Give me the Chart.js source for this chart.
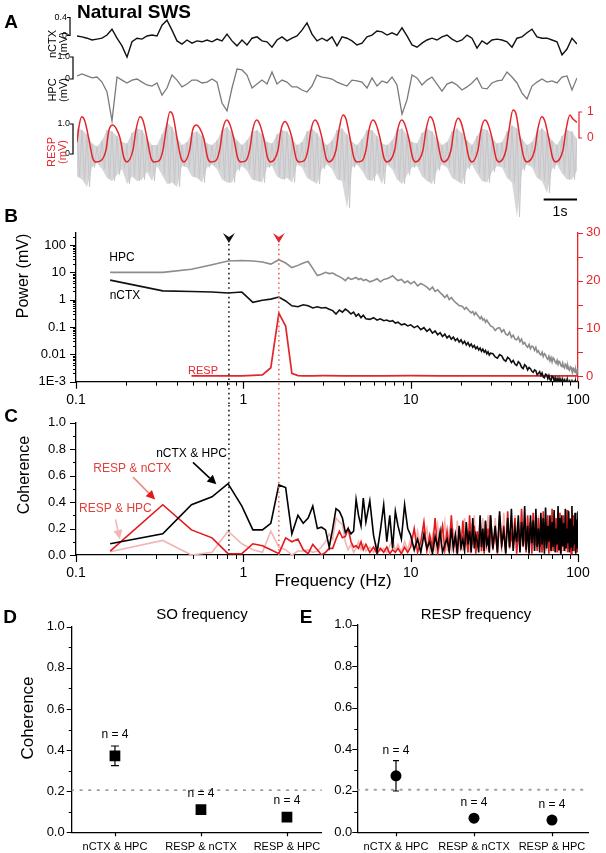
<!DOCTYPE html>
<html><head><meta charset="utf-8">
<script src="https://cdn.jsdelivr.net/npm/chart.js@4.4.0/dist/chart.umd.min.js"></script>
<style>
body{margin:0;width:606px;height:853px;position:relative;background:#fff;overflow:hidden;font-family:"Liberation Sans",Arial,sans-serif;}
canvas{position:absolute;}
.t{position:absolute;white-space:nowrap;line-height:1;transform:translate(-50%,-50%);}
.r{transform:translate(-50%,-50%) rotate(-90deg);text-align:center;}
.b{font-weight:bold;}
</style></head><body>
<script>
// ---------------- DATA ----------------
const DT = 0.15; // s per sample, panel A traces
const nctxTrace = [-0.01,-0.03,-0.06,-0.1,-0.08,-0.06,0.01,0.14,-0.06,-0.23,
-0.48,-0.14,-0.06,-0.08,-0.01,0.01,-0.01,0.23,0.34,0.12,
-0.12,-0.19,-0.1,-0.17,-0.12,-0.14,-0.1,-0.14,-0.08,-0.12,
0.03,-0.12,-0.23,-0.1,-0.21,-0.06,-0.03,-0.12,-0.14,-0.26,
-0.1,-0.03,-0.12,-0.06,-0.01,0.12,0.28,0.03,-0.12,-0.06,
-0.12,-0.03,-0.23,-0.03,-0.06,-0.12,-0.21,-0.17,-0.03,0.01,
0.1,0.08,0.01,0.06,0.01,0.17,-0.01,-0.21,-0.26,-0.17,
-0.1,-0.06,-0.1,-0.03,0.01,-0.08,-0.14,-0.1,0.01,-0.06,
-0.28,-0.12,-0.19,-0.1,-0.08,-0.1,-0.14,-0.26,-0.06,-0.03,
0.06,0.14,-0.03,-0.06,-0.06,-0.1,-0.14,-0.43,-0.3,-0.06,
-0.19];
const hpcTrace = [0.14,0.23,0.14,0.05,0.09,-0.14,-0.59,-1.9,0.09,-0.05,
-0.18,-0.05,0,-0.14,-0.27,-0.32,-0.18,-0.73,-0.41,0.18,
-0.05,-0.36,-0.23,-0.05,-0.05,-0.18,-0.14,0,-0.14,-1.09,
-1.45,-0.41,0.45,0.41,0.18,-0.41,-0.23,-0.05,-0.23,0.32,
-0.23,-0.05,-0.14,-0.36,-0.36,-0.5,-0.59,-0.32,0.18,0.09,
0.05,0,-0.14,-0.23,-0.32,-0.05,-0.09,-0.14,-0.41,0.05,
-0.32,-0.09,-0.18,0.09,-0.27,-1.6,-0.95,0.18,0.05,-0.27,
-0.05,0.09,-0.23,-0.55,-0.23,-0.14,-0.27,-0.5,-0.36,-0.18,
0.05,-0.41,-0.45,-0.18,-0.09,-0.05,0.32,0.09,-0.18,-0.64,
-0.91,-0.32,-0.14,0,-0.14,-0.09,-0.18,0.09,0.14,-0.5,
0.05];
const respHi = [0.85,0.8,0.65,0.35,0.25,0.45,0.8,0.75,0.6,0.4,
0.35,0.7,0.85,0.8,0.5,0.3,0.3,0.65,1.05,0.9,
0.55,0.3,0.4,0.7,0.75,0.6,0.35,0.3,0.45,0.8,
0.9,0.7,0.45,0.3,0.45,0.75,0.8,0.65,0.4,0.35,
0.65,0.8,0.75,0.5,0.3,0.4,0.75,0.85,0.7,0.45,
0.3,0.45,0.8,0.85,0.65,0.4,0.3,0.5,0.8,0.8,
0.6,0.35,0.3,0.45,0.8,0.85,0.65,0.4,0.35,0.7,
0.85,0.75,0.5,0.3,0.4,0.75,0.85,0.7,0.45,0.3,
0.6,0.85,0.8,0.55,0.35,0.4,0.75,0.95,0.85,0.5,
0.3,0.4,0.75,0.85,0.7,0.45,0.3,0.6,0.8,0.75,
0.5];
const respLo = [-0.75,-0.85,-1.1,-0.45,-0.3,-0.5,-0.8,-0.9,-0.7,-0.5,
-1.0,-0.75,-0.9,-0.85,-0.6,-0.9,-0.4,-0.7,-1.0,-0.95,
-1.1,-0.4,-0.45,-0.75,-0.8,-0.95,-0.45,-0.35,-0.5,-0.85,
-0.95,-0.95,-0.55,-0.4,-0.55,-0.85,-0.9,-0.95,-0.45,-0.4,
-0.75,-0.85,-0.8,-0.95,-0.35,-0.45,-0.8,-0.9,-1.0,-0.5,
-0.35,-0.5,-0.85,-0.9,-1.8,-0.45,-0.35,-0.55,-0.85,-0.9,
-0.65,-1.0,-0.35,-0.5,-0.85,-1.0,-0.7,-0.45,-0.4,-0.75,
-0.9,-1.0,-0.55,-0.35,-0.45,-0.8,-0.9,-1.0,-0.5,-0.35,
-0.65,-0.9,-0.95,-0.6,-0.4,-0.45,-0.8,-0.95,-2.1,-0.55,
-0.35,-0.45,-0.8,-0.9,-1.3,-0.5,-0.35,-0.65,-0.85,-0.85,
-0.55];
const respRedT = [0,0.06,0.14,0.23,0.35,0.47,0.56,0.71,
0.87,0.96,1.08,1.17,1.29,1.41,1.5,
1.68,1.77,1.89,1.98,2.1,2.22,2.31,2.46,
2.58,2.67,2.79,2.88,3.0,3.12,3.21,
3.38,3.47,3.59,3.68,3.8,3.92,4.01,4.16,
4.28,4.37,4.49,4.58,4.7,4.82,4.91,5.06,
5.18,5.27,5.39,5.48,5.6,5.72,5.81,
6.03,6.12,6.24,6.33,6.45,6.57,6.66,6.81,
6.93,7.02,7.14,7.23,7.35,7.47,7.56,
7.77,7.86,7.98,8.07,8.19,8.31,8.4,8.55,
8.67,8.76,8.88,8.97,9.09,9.21,9.3,
9.53,9.62,9.74,9.83,9.95,10.07,10.16,
10.38,10.47,10.59,10.68,10.8,10.92,11.01,
11.22,11.31,11.43,11.52,11.64,11.76,11.85,
12.03,12.12,12.24,12.33,12.45,12.57,12.66,
12.87,12.96,13.08,13.17,13.29,13.41,13.5,
13.73,13.82,13.94,14.03,14.15,14.27,14.36,
14.58,14.67,14.79,14.88,15.0];
const respRedV = [-0.15,0.45,0.82,0.67,0,-0.77,-0.92,-0.88,
-0.46,0.31,0.5,0.38,0,-0.77,-0.92,
-0.46,0.31,0.82,0.67,0,-0.77,-0.92,-0.88,
-0.46,0.31,1.01,0.86,0,-0.77,-0.92,
-0.46,0.31,0.5,0.38,0,-0.77,-0.92,-0.88,
-0.46,0.31,0.69,0.54,0,-0.77,-0.92,-0.88,
-0.46,0.31,0.69,0.54,0,-0.77,-0.92,
-0.46,0.31,0.63,0.48,0,-0.77,-0.92,-0.88,
-0.46,0.31,0.69,0.54,0,-0.77,-0.92,
-0.46,0.31,0.88,0.73,0,-0.77,-0.92,-0.88,
-0.46,0.31,0.69,0.54,0,-0.77,-0.92,
-0.46,0.31,0.69,0.54,0,-0.77,-0.92,
-0.46,0.31,0.82,0.67,0,-0.77,-0.92,
-0.46,0.31,0.76,0.61,0,-0.77,-0.92,
-0.46,0.31,0.69,0.54,0,-0.77,-0.92,
-0.46,0.31,1.08,0.93,0,-0.77,-0.92,
-0.46,0.31,0.82,0.67,0,-0.77,-0.92,
-0.46,0.31,0.88,0.73,0.6];

const freqHz = [0.16,0.33,0.49,0.65,0.81,0.98,1.14,1.3,1.46,1.63,
1.79,1.95,2.12,2.28,2.44,2.6,2.77,2.93,3.1,3.26,
3.42,3.58,3.75,3.91,4.07,4.23,4.4,4.56,4.72,4.88,
5.05,5.21,5.4,5.7,6.0,6.3,6.6,6.9,7.2,7.5,
7.8,8.1,8.4,8.8,9.2,9.6,
10,10.5,11,11.5,12,12.5,13,13.5,14,14.5,
15,15.5,16,16.5,17,17.5,18,18.5,19,19.5,
20,20.5,21,21.5,22,22.5,23,23.5,24,24.5,
25,25.5,26,26.5,27,27.5,28,28.5,29,29.5,
30,
31,32,33,34,35,36,37,38,39,40,
41,42,43,44,45,46,47,48,49,50,
51,52,53,54,55,56,57,58,59,60,
61,62,63,64,65,66,67,68,69,70,
71,72,73,74,75,76,77,78,79,80,
81,82,83,84,85,86,87,88,89,90,
91,92,93,94,95,96,97,98,99,100];
const powHPC = [10,10,13,19,26,27,26,24,20,29,
22,15,18,22,25,14,7.6,8.5,10,9,
9.5,8,7,6,5,6.5,5.5,6,6.5,5.5,
6,5,5.5,4.5,5,5.8,4.5,5.5,5.8,6.5,
7.5,6,5,5.5,4.2,4.8,
3.8,4.6,3.2,3.9,3.4,2.9,2.3,2.9,2.0,2.3,
1.8,1.5,1.2,1.5,1.0,1.2,0.95,0.8,0.7,0.6,
0.6,0.55,0.45,0.52,0.44,0.38,0.33,0.37,0.28,0.34,
0.28,0.24,0.2,0.24,0.18,0.2,0.15,0.18,0.15,0.13,
0.11,
0.1,0.075,0.09,0.095,0.066,0.08,0.055,0.05,0.065,0.042,
0.05,0.036,0.034,0.043,0.029,0.036,0.024,0.027,0.021,0.018,
0.023,0.016,0.02,0.019,0.014,0.018,0.012,0.0135,0.0105,0.0095,
0.012,0.0083,0.0105,0.0095,0.0074,0.0066,0.0085,0.0059,0.0076,0.0053,
0.0075,0.0067,0.0053,0.0047,0.006,0.0043,0.0055,0.005,0.0039,0.0036,
0.0048,0.0035,0.0032,0.0044,0.0041,0.003,0.0037,0.0028,0.0026,0.0035,
0.0033,0.0025,0.0023,0.0031,0.0029,0.0022,0.0027,0.0021,0.0026,0.002];
const powNCTX = [5.2,2.1,2.0,1.9,1.75,1.9,0.8,0.95,1.05,1.25,
0.9,0.6,0.55,0.65,0.6,0.5,0.55,0.5,0.52,0.45,
0.4,0.3,0.42,0.35,0.45,0.38,0.3,0.35,0.25,0.3,
0.22,0.27,0.2,0.19,0.22,0.18,0.2,0.17,0.18,0.16,
0.17,0.14,0.15,0.12,0.13,0.11,
0.12,0.095,0.11,0.08,0.095,0.07,0.085,0.06,0.072,0.052,
0.062,0.045,0.055,0.04,0.048,0.036,0.043,0.032,0.038,0.028,
0.034,0.025,0.03,0.022,0.027,0.02,0.024,0.018,0.021,0.016,
0.019,0.0145,0.017,0.013,0.0155,0.012,0.014,0.0105,0.0125,0.0095,
0.011,
0.0105,0.008,0.0072,0.0098,0.0088,0.0064,0.0056,0.0078,0.0068,0.005,
0.006,0.0044,0.0039,0.0054,0.0047,0.0034,0.003,0.0042,0.0037,0.0027,
0.0033,0.003,0.0024,0.0022,0.0027,0.0025,0.0018,0.002,0.0023,0.0017,
0.0021,0.0015,0.0014,0.0019,0.0018,0.0013,0.0017,0.0012,0.0011,0.0016,
0.0015,0.00105,0.0014,0.001,0.0013,0.00095,0.0013,0.0009,0.0012,0.00088,
0.0012,0.00085,0.0011,0.00082,0.0011,0.0008,0.00105,0.0008,0.001,0.00078,
0.001,0.00076,0.00098,0.00075,0.00095,0.00074,0.00095,0.00073,0.00092,0.00072];
const respPowFreq = [0.49,0.65,0.81,0.98,1.14,1.3,1.46,1.63,1.79,1.95,2.12,2.28,2.6,3,4,5,7,10,15,20,30,40,50,60,70,80,90,100];
const respPow = [0.1,0.1,0.1,0.1,0.2,0.3,1.8,13.2,10.5,0.6,0.15,0.1,0.1,0.12,0.1,0.1,0.1,0.12,0.1,0.1,0.1,0.1,0.1,0.1,0.1,0.1,0.1,0.1];
const cohCtxHpc = [0.085,0.16,0.38,0.44,0.54,0.37,0.19,0.19,0.24,0.53,
0.51,0.16,0.3,0.24,0.28,0.37,0.2,0.21,0.19,0.06,
0.2,0.35,0.33,0.28,0.17,0.2,0.16,0.18,0.42,0.3,
0.22,0.43,0.25,0.41,0.15,0.02,0.19,0.38,0.1,0.3,
0.05,0.33,0.22,0.12,0.38,0.2,
0.15,0.04,0.12,0.02,0.16,0.05,0.1,0.01,0.14,0.06,
0.18,0.02,0.08,0.12,0.03,0.2,0.05,0.15,0.01,0.22,
0.06,0.12,0.03,0.25,0.08,0.18,0.02,0.28,0.05,0.15,
0.1,0.02,0.3,0.06,0.2,0.03,0.26,0.08,0.12,0.02,
0.3,
0.05,0.22,0.02,0.33,0.08,0.18,0.01,0.28,0.06,0.35,
0.03,0.2,0.1,0.3,0.02,0.25,0.07,0.37,0.04,0.22,
0.01,0.3,0.09,0.26,0.03,0.35,0.06,0.2,0.02,0.32,
0.08,0.28,0.01,0.36,0.05,0.22,0.1,0.3,0.03,0.25,
0.06,0.34,0.02,0.2,0.08,0.37,0.04,0.28,0.01,0.3,
0.07,0.24,0.03,0.35,0.05,0.2,0.09,0.33,0.02,0.27,
0.06,0.37,0.03,0.22,0.08,0.32,0.01,0.26,0.05,0.33];
const cohRespCtx = [0.03,0.38,0.19,0.13,0.01,0.01,0.085,0.07,0.04,0.01,
0.13,0.1,0.12,0.04,0.01,0.08,0.04,0.0,0.02,0.05,
0.05,0.12,0.18,0.13,0.14,0.2,0.1,0.06,0.07,0.05,
0.1,0.04,0.08,0.02,0.06,0.01,0.05,0.02,0.06,0.01,
0.04,0.02,0.05,0.01,0.06,0.02,
0.06,0.2,0.02,0.1,0.25,0.03,0.15,0.05,0.28,0.01,
0.12,0.22,0.04,0.18,0.02,0.3,0.06,0.14,0.01,0.2,
0.04,0.26,0.08,0.15,0.02,0.3,0.05,0.12,0.22,0.01,
0.18,0.06,0.28,0.03,0.15,0.01,0.25,0.07,0.2,0.02,
0.3,
0.04,0.18,0.01,0.3,0.06,0.22,0.02,0.33,0.05,0.15,
0.08,0.28,0.01,0.2,0.04,0.35,0.06,0.18,0.02,0.3,
0.05,0.25,0.01,0.32,0.07,0.2,0.03,0.28,0.06,0.15,
0.02,0.33,0.04,0.22,0.08,0.3,0.01,0.25,0.05,0.35,
0.03,0.2,0.07,0.28,0.02,0.18,0.05,0.32,0.01,0.24,
0.06,0.3,0.03,0.2,0.08,0.34,0.02,0.22,0.05,0.28,
0.01,0.25,0.06,0.3,0.03,0.2,0.07,0.27,0.02,0.22];
const cohRespHpc = [0.025,0.11,0.0,0.02,0.18,0.085,0.04,0.02,0.18,0.06,
0.04,0.0,0.03,0.03,0.04,0.02,0.03,0.06,0.1,0.16,
0.12,0.28,0.25,0.23,0.1,0.04,0.08,0.02,0.05,0.1,
0.04,0.08,0.03,0.06,0.02,0.08,0.03,0.05,0.02,0.07,
0.12,0.03,0.08,0.02,0.1,0.04,
0.12,0.03,0.18,0.05,0.1,0.2,0.02,0.15,0.04,0.22,
0.06,0.12,0.25,0.03,0.18,0.05,0.2,0.02,0.26,0.07,
0.15,0.03,0.28,0.06,0.2,0.02,0.24,0.08,0.3,0.04,
0.18,0.05,0.25,0.02,0.28,0.06,0.2,0.03,0.3,0.05,
0.22,
0.03,0.28,0.06,0.2,0.02,0.32,0.05,0.25,0.08,0.18,
0.03,0.3,0.05,0.22,0.02,0.33,0.07,0.2,0.04,0.28,
0.02,0.25,0.06,0.32,0.03,0.2,0.05,0.3,0.08,0.22,
0.02,0.28,0.05,0.35,0.03,0.2,0.06,0.27,0.02,0.3,
0.05,0.22,0.03,0.28,0.07,0.2,0.02,0.32,0.05,0.25,
0.03,0.28,0.06,0.2,0.02,0.3,0.05,0.22,0.08,0.27,
0.03,0.2,0.06,0.3,0.02,0.25,0.05,0.22,0.03,0.22];
const soFreq = 0.82, respFreq = 1.63;

const pairLabels = ['nCTX & HPC','RESP & nCTX','RESP & HPC'];
const soMean = [0.372, 0.11, 0.074];
const soSem = [0.048, 0, 0];
const respMean = [0.272, 0.068, 0.059];
const respSem = [0.073, 0, 0];
const nAnimals = [4, 4, 4];
const chanceLevel = 0.205;

const freqTickLabels = [0.1, 1, 10, 100];
const powerTickLabels = [0.001, 0.01, 0.1, 1, 10, 100];
const respPowTicks = [0, 10, 20, 30];
const cohTicks = [0, 0.2, 0.4, 0.6, 0.8, 1.0];

// ---------------- SETUP ----------------
const FONT = '"Liberation Sans", Arial, Helvetica, sans-serif';
Chart.defaults.font.family = FONT;
Chart.defaults.color = '#000';
Chart.defaults.animation = false;
Chart.defaults.responsive = false;
Chart.defaults.devicePixelRatio = 1;
Chart.defaults.plugins.legend.display = false;
Chart.defaults.plugins.tooltip.enabled = false;
const RED = '#e3262b';

function mkCanvas(l, t, w, h) {
  const c = document.createElement('canvas');
  c.width = w; c.height = h;
  c.style.left = l + 'px'; c.style.top = t + 'px';
  c.style.width = w + 'px'; c.style.height = h + 'px';
  document.body.appendChild(c);
  return c;
}
function txt(s, x, y, size, extra) {
  const d = document.createElement('div');
  d.className = 't ' + (extra && extra.cls ? extra.cls : '');
  d.innerHTML = s;
  d.style.left = x + 'px'; d.style.top = y + 'px';
  d.style.fontSize = size + 'px';
  if (extra && extra.color) d.style.color = extra.color;
  document.body.appendChild(d);
  return d;
}
function tickMarks(ctx, scale, vals, len, color, lw) {
  ctx.save(); ctx.strokeStyle = color; ctx.lineWidth = lw || 1;
  ctx.beginPath();
  for (const v of vals) {
    const p = Math.round(scale.getPixelForValue(v)) + 0.5;
    if (scale.isHorizontal()) { ctx.moveTo(p, scale.top); ctx.lineTo(p, scale.top + len); }
    else if (scale.position === 'left') { ctx.moveTo(scale.right, p); ctx.lineTo(scale.right - len, p); }
    else { ctx.moveTo(scale.left, p); ctx.lineTo(scale.left + len, p); }
  }
  ctx.stroke(); ctx.restore();
}
function minorLog(decs, top) {
  const out = [];
  for (const d of decs) for (let k = 2; k <= 9; k++) { const v = d * k; if (v < top) out.push(v); }
  return out;
}
function bracket(chart, axisId, x, v0, v1, lab0, lab1, color, side, fs) {
  const s = chart.scales[axisId], ctx = chart.ctx;
  const y0 = s.getPixelForValue(v0), y1 = s.getPixelForValue(v1);
  const d = side === 'left' ? -3 : 3;
  ctx.save(); ctx.strokeStyle = color; ctx.lineWidth = 1.2;
  ctx.beginPath(); ctx.moveTo(x + d, y1); ctx.lineTo(x, y1); ctx.lineTo(x, y0); ctx.lineTo(x + d, y0); ctx.stroke();
  ctx.fillStyle = color; ctx.font = fs + 'px ' + FONT; ctx.textBaseline = 'middle';
  if (side === 'left') { ctx.textAlign = 'right'; ctx.fillText(lab1, x - 3, y1); ctx.fillText(lab0, x - 3, y0); }
  else { ctx.textAlign = 'left'; ctx.fillText(lab1, x + 8, y1); ctx.fillText(lab0, x + 8, y0); }
  ctx.restore();
}

// ---------------- PANEL A ----------------
function traceOpts(y, y2) {
  const scales = { x: { type: 'linear', min: 0, max: 15, display: false },
                   y: { min: y[0], max: y[1], display: false } };
  if (y2) scales.y2 = { position: 'right', min: y2[0], max: y2[1], display: false };
  return { layout: { padding: { left: 77, right: 29, top: 0, bottom: 0 } }, scales,
           elements: { point: { radius: 0 } } };
}
new Chart(mkCanvas(0, 14, 606, 48), {
  type: 'line',
  data: { datasets: [{ data: nctxTrace.map((v, i) => ({ x: i * DT, y: v })), borderColor: '#111', borderWidth: 1.4 }] },
  options: traceOpts([-0.589, 0.478]),
  plugins: [{ id: 'b1', afterDraw(c) { bracket(c, 'y', 70, 0, 0.4, '0', '0.4', '#000', 'left', 9); } }]
});
new Chart(mkCanvas(0, 52, 606, 72), {
  type: 'line',
  data: { datasets: [{ data: hpcTrace.map((v, i) => ({ x: i * DT, y: v })), borderColor: '#7a7a7a', borderWidth: 1.3 }] },
  options: traceOpts([-2.045, 1.227]),
  plugins: [{ id: 'b2', afterDraw(c) { bracket(c, 'y', 73, 0, 1.0, '0', '1.0', '#000', 'left', 9); } }]
});
const grayZig = [];
respHi.forEach((h, i) => { grayZig.push({ x: i * DT, y: h }); grayZig.push({ x: i * DT + DT / 2, y: respLo[i] }); });
new Chart(mkCanvas(0, 105, 606, 117), {
  type: 'line',
  data: { datasets: [
    { data: respRedT.map((t, i) => ({ x: t, y: respRedV[i] })), yAxisID: 'y2', borderColor: RED, borderWidth: 1.5, cubicInterpolationMode: 'monotone', order: 0 },
    { data: grayZig, yAxisID: 'y', borderColor: '#c6c6ca', borderWidth: 1, order: 1 },
    { data: respHi.map((v, i) => ({ x: i * DT, y: v })), yAxisID: 'y', borderColor: 'rgba(0,0,0,0)', borderWidth: 0, fill: '+1', backgroundColor: '#d6d6d9', order: 2 },
    { data: respLo.map((v, i) => ({ x: i * DT, y: v })), yAxisID: 'y', borderColor: 'rgba(0,0,0,0)', borderWidth: 0, order: 3 }
  ] },
  options: traceOpts([-2.267, 1.633], [-3.231, 1.269]),
  plugins: [{ id: 'b3', afterDraw(c) {
    bracket(c, 'y', 73, 0, 1.0, '0', '1.0', '#000', 'left', 9);
    bracket(c, 'y2', 579, 0, 1, '0', '1', RED, 'right', 12);
    const xs = c.scales.x, ctx = c.ctx;
    ctx.save(); ctx.strokeStyle = '#000'; ctx.lineWidth = 2.2;
    ctx.beginPath(); ctx.moveTo(xs.getPixelForValue(14), 94.5); ctx.lineTo(xs.getPixelForValue(15), 94.5); ctx.stroke();
    ctx.restore();
  } }]
});

// ---------------- PANEL B ----------------
function chevron(ctx, x, y, color) {
  ctx.save(); ctx.fillStyle = color; ctx.beginPath();
  ctx.moveTo(x - 6, y); ctx.lineTo(x, y + 4); ctx.lineTo(x + 6, y); ctx.lineTo(x, y + 10); ctx.closePath(); ctx.fill(); ctx.restore();
}
function vDotted(ctx, x, y0, y1, color) {
  ctx.save(); ctx.strokeStyle = color; ctx.lineWidth = 1.6; ctx.setLineDash([1.6, 3.2]);
  ctx.beginPath(); ctx.moveTo(x, y0); ctx.lineTo(x, y1); ctx.stroke(); ctx.restore();
}
const logX = {
  type: 'logarithmic', min: 0.1, max: 100, position: 'bottom',
  grid: { display: false, drawTicks: false }, border: { display: true, color: '#000', width: 1.3 },
  ticks: { autoSkip: false, maxRotation: 0, padding: 10, font: { size: 14 }, callback: v => String(v) },
  afterBuildTicks: s => { s.ticks = freqTickLabels.map(v => ({ value: v })); }
};
new Chart(mkCanvas(0, 215, 606, 190), {
  type: 'line',
  data: { datasets: [
    { data: freqHz.map((f, i) => ({ x: f, y: powHPC[i] })), borderColor: '#8c8c8c', borderWidth: 1.6, yAxisID: 'y' },
    { data: freqHz.map((f, i) => ({ x: f, y: powNCTX[i] })), borderColor: '#111', borderWidth: 1.6, yAxisID: 'y' },
    { data: respPowFreq.map((f, i) => ({ x: f, y: respPow[i] })), borderColor: RED, borderWidth: 1.7, yAxisID: 'y2' }
  ] },
  options: {
    layout: { padding: { top: 10, left: 0, right: 0, bottom: 0 } },
    elements: { point: { radius: 0 } },
    scales: {
      x: Object.assign({}, logX, { afterFit: s => { s.height = 23.3; } }),
      y: { type: 'logarithmic', position: 'left', min: 0.001, max: 280,
        grid: { display: false, drawTicks: false }, border: { display: true, color: '#000', width: 1.3 },
        ticks: { autoSkip: false, padding: 10, font: { size: 13 }, callback: v => v === 0.001 ? '1E-3' : String(v) },
        afterBuildTicks: s => { s.ticks = powerTickLabels.map(v => ({ value: v })); },
        afterFit: s => { s.width = 76; } },
      y2: { type: 'linear', position: 'right', min: -1.13, max: 30,
        grid: { display: false, drawTicks: false }, border: { display: true, color: RED, width: 1.3 },
        ticks: { autoSkip: false, padding: 8, color: RED, font: { size: 13 } },
        afterBuildTicks: s => { s.ticks = respPowTicks.map(v => ({ value: v })); },
        afterFit: s => { s.width = 28; } }
    }
  },
  plugins: [{ id: 'bdeco', afterDraw(c) {
    const ctx = c.ctx, xs = c.scales.x, ys = c.scales.y, y2 = c.scales.y2;
    tickMarks(ctx, xs, freqTickLabels, 7, '#000', 1.2);
    tickMarks(ctx, xs, minorLog([0.1, 1, 10], 100), 4, '#000', 1);
    tickMarks(ctx, ys, powerTickLabels, 6, '#000', 1.2);
    tickMarks(ctx, ys, minorLog(powerTickLabels, 280), 3, '#000', 1);
    tickMarks(ctx, y2, [0, 5, 10, 15, 20, 25, 30], 5, RED, 1.2);
    const xa = xs.getPixelForValue(soFreq), xb = xs.getPixelForValue(respFreq);
    vDotted(ctx, xa, 29, 190, '#222');
    vDotted(ctx, xb, 29, 190, '#e86a5a');
    chevron(ctx, xa, 18, '#111');
    chevron(ctx, xb, 18, RED);
  } }]
});

// ---------------- PANEL C ----------------
const cohNotes = [
  { text: 'nCTX & HPC', color: '#000', lx: 0.49, ly: 0.765, tail: [0.50, 0.70], tip: [0.69, 0.535], line: '#000', head: '#000' },
  { text: 'RESP & nCTX', color: '#e0403a', lx: 0.217, ly: 0.655, tail: [0.219, 0.59], tip: [0.297, 0.42], line: '#e98a80', head: '#e3191c' },
  { text: 'RESP & HPC', color: '#e0403a', lx: 0.172, ly: 0.35, tail: [0.172, 0.27], tip: [0.183, 0.12], line: '#f2b5b5', head: '#f2b5b5' }
];
new Chart(mkCanvas(0, 405, 606, 180), {
  type: 'line',
  data: { datasets: [
    { data: freqHz.map((f, i) => ({ x: f, y: cohCtxHpc[i] })), borderColor: '#000', borderWidth: 1.6, order: 0 },
    { data: freqHz.map((f, i) => ({ x: f, y: cohRespCtx[i] })), borderColor: '#e3191c', borderWidth: 1.6, order: 1 },
    { data: freqHz.map((f, i) => ({ x: f, y: cohRespHpc[i] })), borderColor: '#f3b4b4', borderWidth: 1.6, order: 2 }
  ] },
  options: {
    layout: { padding: { top: 11.7, left: 0, right: 28, bottom: 0 } },
    elements: { point: { radius: 0 } },
    scales: {
      x: Object.assign({}, logX, { afterFit: s => { s.height = 30; } }),
      y: { type: 'linear', position: 'left', min: 0, max: 1,
        grid: { display: false, drawTicks: false }, border: { display: true, color: '#000', width: 1.3 },
        ticks: { autoSkip: false, padding: 10, font: { size: 13 }, callback: v => v.toFixed(1) },
        afterBuildTicks: s => { s.ticks = cohTicks.map(v => ({ value: v })); },
        afterFit: s => { s.width = 76; } }
    }
  },
  plugins: [{ id: 'cdeco', afterDraw(c) {
    const ctx = c.ctx, xs = c.scales.x, ys = c.scales.y;
    tickMarks(ctx, xs, freqTickLabels, 7, '#000', 1.2);
    tickMarks(ctx, xs, minorLog([0.1, 1, 10], 100), 4, '#000', 1);
    tickMarks(ctx, ys, cohTicks, 6, '#000', 1.2);
    tickMarks(ctx, ys, [0.1, 0.3, 0.5, 0.7, 0.9], 3, '#000', 1);
    vDotted(ctx, xs.getPixelForValue(soFreq), 0, ys.getPixelForValue(0), '#222');
    vDotted(ctx, xs.getPixelForValue(respFreq), 0, ys.getPixelForValue(0), '#e86a5a');
    ctx.save();
    ctx.font = '12px ' + FONT; ctx.textAlign = 'center'; ctx.textBaseline = 'middle';
    for (const n of cohNotes) {
      ctx.fillStyle = n.color;
      ctx.fillText(n.text, xs.getPixelForValue(n.lx), ys.getPixelForValue(n.ly));
      const x0 = xs.getPixelForValue(n.tail[0]), y0 = ys.getPixelForValue(n.tail[1]);
      const x1 = xs.getPixelForValue(n.tip[0]), y1 = ys.getPixelForValue(n.tip[1]);
      const ang = Math.atan2(y1 - y0, x1 - x0), hl = 9, hw = 4.5;
      const bx = x1 - hl * Math.cos(ang), by = y1 - hl * Math.sin(ang);
      ctx.strokeStyle = n.line; ctx.lineWidth = 1.6;
      ctx.beginPath(); ctx.moveTo(x0, y0); ctx.lineTo(bx, by); ctx.stroke();
      ctx.fillStyle = n.head; ctx.beginPath();
      ctx.moveTo(x1, y1);
      ctx.lineTo(bx + hw * Math.sin(ang), by - hw * Math.cos(ang));
      ctx.lineTo(bx - hw * Math.sin(ang), by + hw * Math.cos(ang));
      ctx.closePath(); ctx.fill();
    }
    ctx.restore();
  } }]
});

// ---------------- PANELS D, E ----------------
function statChart(left, width, yW, padR, xmin, xmax, means, sems, style, radius, capW, labelGap, labelPad) {
  return new Chart(mkCanvas(left, 612, width, 241), {
    type: 'scatter',
    data: { datasets: [
      { data: means.map((m, i) => ({ x: i, y: m })), pointStyle: style, pointRadius: radius, backgroundColor: '#000', borderColor: '#000', borderWidth: 0, order: 0 },
      { data: [{ x: xmin, y: chanceLevel }, { x: xmax, y: chanceLevel }], showLine: true, pointRadius: 0, borderColor: '#a0a0a0', borderWidth: 1.8, borderDash: [1.6, 7], borderCapStyle: 'round', order: 1 }
    ] },
    options: {
      layout: { padding: { top: 10.7, left: 0, right: padR, bottom: 0 } },
      scales: {
        x: { type: 'linear', min: xmin, max: xmax, position: 'bottom',
          grid: { display: false, drawTicks: false }, border: { display: true, color: '#000', width: 1.3 },
          ticks: { autoSkip: false, maxRotation: 0, padding: 8, font: { size: 11 }, callback: v => pairLabels[v] },
          afterBuildTicks: s => { s.ticks = pairLabels.map((_, i) => ({ value: i })); },
          afterFit: s => { s.height = 20.7; } },
        y: { type: 'linear', min: 0, max: 1, position: 'left',
          grid: { display: false, drawTicks: false }, border: { display: true, color: '#000', width: 1.3 },
          ticks: { autoSkip: false, padding: labelPad, font: { size: 13 }, callback: v => v.toFixed(1) },
          afterBuildTicks: s => { s.ticks = cohTicks.map(v => ({ value: v })); },
          afterFit: s => { s.width = yW; } }
      }
    },
    plugins: [{ id: 'stat', afterDatasetsDraw(c) {
      const ctx = c.ctx, xs = c.scales.x, ys = c.scales.y;
      tickMarks(ctx, xs, [0, 1, 2], 4, '#000', 1.2);
      tickMarks(ctx, ys, cohTicks, 5, '#000', 1.2);
      tickMarks(ctx, ys, [0.1, 0.3, 0.5, 0.7, 0.9], 3, '#000', 1);
      ctx.save(); ctx.strokeStyle = '#000'; ctx.lineWidth = 1.2;
      ctx.fillStyle = '#000'; ctx.font = '12px ' + FONT; ctx.textAlign = 'center'; ctx.textBaseline = 'middle';
      means.forEach((m, i) => {
        const px = xs.getPixelForValue(i);
        let top = ys.getPixelForValue(m) - 5.5;
        if (sems[i] > 0) {
          const a = ys.getPixelForValue(m + sems[i]), b = ys.getPixelForValue(m - sems[i]);
          ctx.beginPath(); ctx.moveTo(px, a); ctx.lineTo(px, b);
          ctx.moveTo(px - capW / 2, a); ctx.lineTo(px + capW / 2, a);
          ctx.moveTo(px - capW / 2, b); ctx.lineTo(px + capW / 2, b); ctx.stroke();
          top = Math.min(top, a);
        }
        ctx.fillText('n = ' + nAnimals[i], px, top - labelGap);
      });
      ctx.restore();
    } }]
  });
}
statChart(0, 330, 71.7, 8.3, -0.503, 2.404, soMean, soSem, 'rect', 7.6, 8, 11, 7);
statChart(330, 276, 27.3, 18, -0.496, 2.462, respMean, respSem, 'circle', 5.5, 6, 10, 5);

// ---------------- TEXT ----------------
txt('A', 11, 21, 19, { cls: 'b' });
txt('Natural SWS', 134, 11, 19, { cls: 'b' });
txt('nCTX<br>(mV)', 58, 44, 11, { cls: 'r' });
txt('HPC<br>(mV)', 58, 90, 11, { cls: 'r' });
txt('RESP<br>(mV)', 57, 152, 11, { cls: 'r', color: RED });
txt('1s', 560, 211, 14);
txt('B', 11, 215, 19, { cls: 'b' });
txt('Power (mV)', 23, 276, 16, { cls: 'r' });
txt('HPC', 122, 257, 12);
txt('nCTX', 125, 295, 12);
txt('RESP', 203, 370, 11, { color: RED });
txt('C', 11, 415, 19, { cls: 'b' });
txt('Coherence', 24, 475, 16, { cls: 'r' });
txt('Frequency (Hz)', 333, 580, 17);
txt('D', 10, 616, 19, { cls: 'b' });
txt('SO frequency', 202, 613, 15);
txt('Coherence', 27, 718, 17, { cls: 'r' });
txt('E', 306, 616, 19, { cls: 'b' });
txt('RESP frequency', 476, 613, 15);
</script>
</body></html>
